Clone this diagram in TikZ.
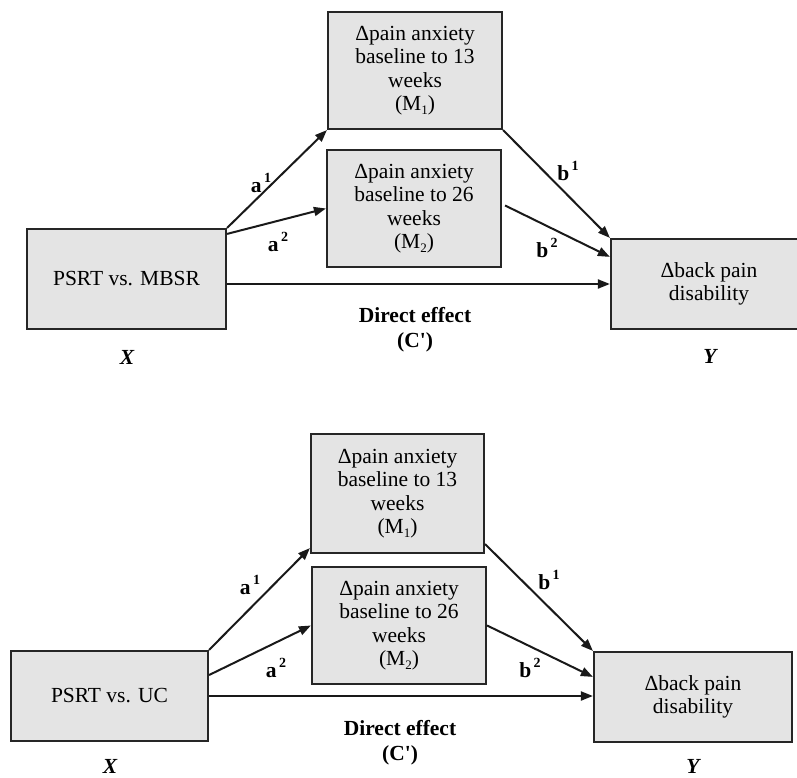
\documentclass[tikz,border=0pt]{standalone}
\usepackage{fontspec}
\setmainfont{Liberation Serif}
\usetikzlibrary{arrows.meta}
\definecolor{boxfill}{HTML}{E4E4E4}
\definecolor{boxline}{HTML}{262626}
\newcommand{\supnum}[1]{\kern2.5pt\raisebox{10pt}{\fontsize{14}{14}\selectfont\textbf{#1}}}
\newcommand{\subnum}[1]{\raisebox{-4pt}{\fontsize{13}{13}\selectfont #1}}
\newcommand{\cprime}{C\textquotesingle}
\begin{document}
\begin{tikzpicture}[x=1pt,y=-1pt,
  every node/.style={font=\fontsize{21.5}{23.5}\selectfont},
  varbox/.style={draw=boxline,fill=boxfill,line width=2.2pt,align=center,inner sep=0pt},
  path/.style={draw=black!90,line width=2pt,-{Triangle[length=12pt,width=9pt]}},
  lbl/.style={font=\fontsize{21.5}{25}\selectfont\bfseries,inner sep=0pt},
  axis/.style={font=\fontsize{21.5}{23.5}\selectfont\bfseries\itshape,inner sep=0pt}]
\useasboundingbox (0,0) rectangle (797,778);
% ---------- top panel ----------
\node[varbox,minimum width=199pt,minimum height=100pt] (X1) at (126.5,279) {\raisebox{-6pt}{PSRT vs. MBSR}};
\node[varbox,minimum width=174pt,minimum height=117pt] (M11) at (415,70.5) {Δpain anxiety\\baseline to 13\\weeks\\(M\subnum{1})};
\node[varbox,minimum width=174pt,minimum height=117pt] (M21) at (414,208.5) {Δpain anxiety\\baseline to 26\\weeks\\(M\subnum{2})};
\node[varbox,minimum width=196pt,minimum height=90pt] (Y1) at (709,284) {Δback pain\\disability};
\node[axis] (XL1) at (127,357) {X};
\node[axis] (YL1) at (710,356) {Y};
\node[lbl,align=center] (D1) at (415,330) {Direct effect\\(\cprime)};
\draw[path] (X1.north east) -- (M11.south west);
\draw[path] ([yshift=-6pt]X1.north east) -- (M21.west);
\draw[path] (M11.south east) -- (Y1.north west);
\draw[path] ([xshift=3pt,yshift=3pt]M21.east) -- ([yshift=-19pt]Y1.north west);
\draw[path] (X1.east |- Y1.west) -- (Y1.west);
\node[lbl] (A11) at (261,183) {a\supnum{1}};
\node[lbl] (A21) at (278,242) {a\supnum{2}};
\node[lbl] (B11) at (568,171) {b\supnum{1}};
\node[lbl] (B21) at (547,248) {b\supnum{2}};
% ---------- bottom panel ----------
\node[varbox,minimum width=197pt,minimum height=90pt] (X2) at (109.5,696) {PSRT vs. UC};
\node[varbox,minimum width=173pt,minimum height=119pt] (M12) at (397.5,493.5) {Δpain anxiety\\baseline to 13\\weeks\\(M\subnum{1})};
\node[varbox,minimum width=174pt,minimum height=117pt] (M22) at (399,625.5) {Δpain anxiety\\baseline to 26\\weeks\\(M\subnum{2})};
\node[varbox,minimum width=198pt,minimum height=90pt] (Y2) at (693,697) {Δback pain\\disability};
\node[axis] (XL2) at (110,766) {X};
\node[axis] (YL2) at (693,766) {Y};
\node[lbl,align=center] (D2) at (400,743) {Direct effect\\(\cprime)};
\draw[path] (X2.north east) -- ([yshift=6pt]M12.south west);
\draw[path] ([yshift=21pt]X2.east) -- (M22.west);
\draw[path] ([yshift=10pt]M12.south east) -- (Y2.north west);
\draw[path] (M22.east) -- ([yshift=-26pt]Y2.north west);
\draw[path] (X2.east) -- (X2.east -| Y2.west);
\node[lbl] (A12) at (250,585) {a\supnum{1}};
\node[lbl] (A22) at (276,668) {a\supnum{2}};
\node[lbl] (B12) at (549,580) {b\supnum{1}};
\node[lbl] (B22) at (530,668) {b\supnum{2}};
\end{tikzpicture}
\end{document}
